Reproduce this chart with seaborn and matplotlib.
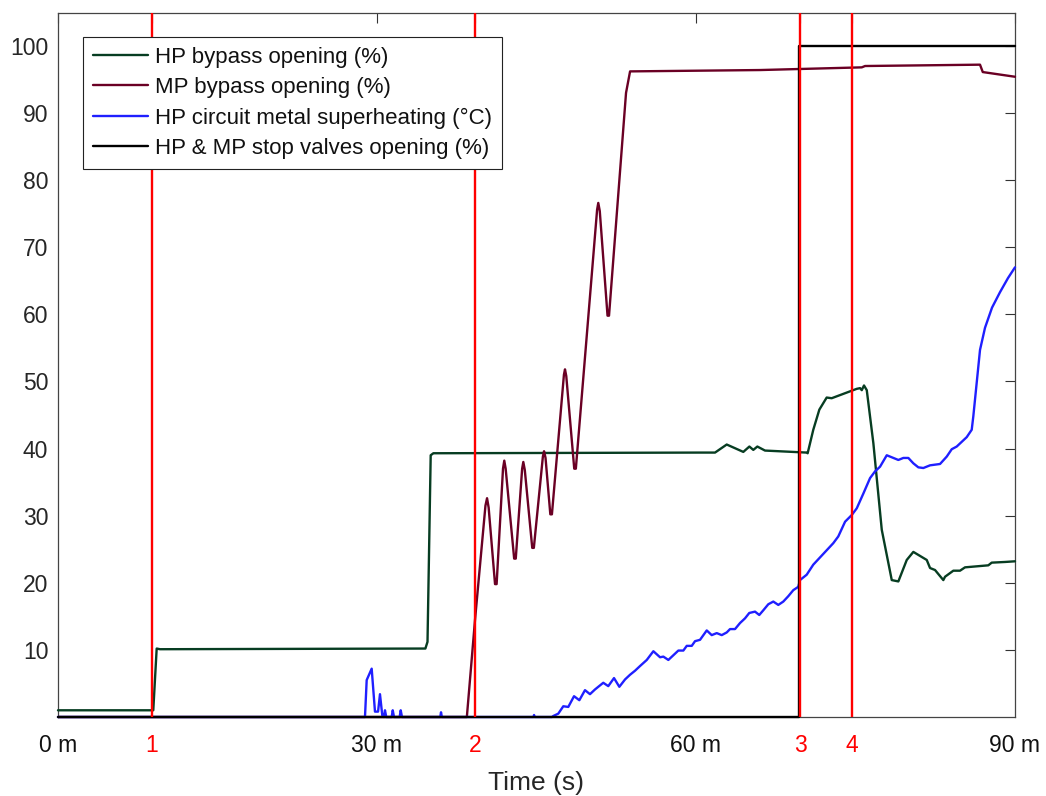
import matplotlib
matplotlib.use("Agg")
import matplotlib.pyplot as plt
import seaborn as sns
import pandas as pd

# ---------------- data (time in minutes) ----------------
hp_t = [0, 8.9, 8.96, 9.28, 9.59, 34.55, 34.75, 35.05, 35.3, 60.38, 61.79, 62.89,
        64.45, 65.02, 65.39, 65.77, 66.49, 70.41, 70.5, 71.03, 71.60, 72.29, 72.76,
        75.12, 75.43, 75.59, 75.80, 76.06, 76.68, 77.47, 78.41, 79.03, 79.82, 80.44,
        81.70, 82.01, 82.48, 83.26, 83.42, 84.20, 84.83, 85.30, 87.49, 87.81, 89.06, 90]
hp_v = [1.0, 1.0, 1.0, 10.2, 10.1, 10.2, 11.2, 39.0, 39.3, 39.4, 39.4, 40.6,
        39.5, 40.3, 39.8, 40.3, 39.7, 39.4, 39.3, 42.8, 45.8, 47.6, 47.5,
        48.9, 49.0, 48.7, 49.4, 48.7, 40.8, 27.9, 20.4, 20.2, 23.4, 24.6,
        23.4, 22.2, 21.9, 20.4, 20.9, 21.8, 21.8, 22.3, 22.6, 23.0, 23.1, 23.2]

mp_t = [0, 38.45, 39.22, 40.2, 40.35, 40.5, 41.1, 41.25, 41.85, 41.97, 42.1,
        42.9, 43.05, 43.65, 43.76, 43.9, 44.6, 44.75, 45.6, 45.71, 45.85, 46.3, 46.45,
        47.58, 47.68, 47.8, 48.55, 48.7, 50.7, 50.81, 50.95, 51.68, 51.82, 53.42,
        53.80, 66.02, 75.59, 75.9, 86.71, 86.97, 90]
mp_v = [0, 0, 14.5, 31.5, 32.6, 31.2, 19.8, 19.8, 37.0, 38.2, 37.0,
        23.6, 23.6, 37.0, 38.0, 36.8, 25.2, 25.2, 38.8, 39.6, 38.6, 30.2, 30.2,
        51.0, 51.8, 50.8, 37.0, 37.0, 75.6, 76.6, 75.4, 59.8, 59.8, 93.0,
        96.2, 96.4, 96.8, 97.0, 97.2, 96.1, 95.4]

sh_t = [0, 28.87, 29.03, 29.50, 29.81, 30.10, 30.28, 30.50, 30.65, 30.75, 30.87,
        31.38, 31.48, 31.60, 32.13, 32.23, 32.35, 35.95, 36.02, 36.10, 44.72, 44.77,
        44.82, 46.45,
        46.58, 47.05, 47.52, 47.99, 48.53, 49.03, 49.56, 50.03, 50.50, 50.81, 51.28,
        51.75, 52.29, 52.79, 53.33, 53.80, 54.27, 54.74, 55.37, 55.99, 56.62, 56.93,
        57.40, 57.87, 58.34, 58.81, 59.13, 59.60, 59.91, 60.38, 61.01, 61.48, 61.95,
        62.42, 62.89, 63.20, 63.67, 64.14, 64.61, 65.01, 65.55, 65.95, 66.33, 66.80,
        67.27, 67.74, 68.21, 68.68, 69.15, 69.62, 69.78, 70.41, 71.03, 72.91, 73.38,
        74.02, 74.65, 75.12, 75.74, 76.37, 76.84, 77.31, 77.94, 78.41, 79.03, 79.50,
        79.97, 80.44, 80.91, 81.38, 82.01, 82.48, 82.95, 83.58, 84.05, 84.52, 85.46,
        85.93, 86.08, 86.71, 87.18, 87.84, 88.59, 89.34, 90]
sh_v = [0, 0, 5.5, 7.2, 0.8, 0.8, 3.4, 0.2, 0, 1.0, 0,
        0, 1.0, 0, 0, 1.0, 0, 0, 0.7, 0, 0, 0.3,
        0, 0,
        0.15, 0.5, 1.6, 1.5, 3.1, 2.5, 4.0, 3.4, 4.1, 4.5, 5.1,
        4.6, 5.8, 4.5, 5.6, 6.3, 6.9, 7.6, 8.5, 9.8, 8.9, 9.0,
        8.5, 9.2, 9.9, 9.9, 10.6, 10.6, 11.3, 11.5, 12.9, 12.2, 12.5,
        12.2, 12.6, 13.1, 13.1, 14.0, 14.7, 15.5, 15.7, 15.2, 15.9, 16.8,
        17.2, 16.7, 17.2, 18.0, 18.9, 19.4, 20.4, 21.2, 22.7, 25.9, 26.9,
        29.1, 30.1, 31.1, 33.3, 35.6, 36.6, 37.3, 39.0, 38.7, 38.3, 38.6,
        38.6, 37.8, 37.2, 37.1, 37.5, 37.6, 37.7, 38.8, 39.9, 40.3, 41.7,
        42.8, 44.8, 54.7, 58.0, 61.0, 63.3, 65.4, 67.0]

sv_t = [0, 69.7, 69.7, 90]
sv_v = [0, 0, 100, 100]

event_times = [8.82, 39.22, 69.78, 74.67]
event_labels = ["1", "2", "3", "4"]
time_ticks = [0, 30, 60, 90]
time_labels = ["0 m", "30 m", "60 m", "90 m"]
y_ticks = [10, 20, 30, 40, 50, 60, 70, 80, 90, 100]

labels = ["HP bypass opening (%)", "MP bypass opening (%)",
          "HP circuit metal superheating (\u00b0C)", "HP & MP stop valves opening (%)"]
colors = ["#073d22", "#6a0024", "#1f1fff", "#000000"]

# ---------------- plot ----------------
sns.set_style("white")
plt.rcParams["font.family"] = ["Liberation Sans", "DejaVu Sans"]

fig = plt.figure(figsize=(10.46, 7.96), dpi=100)
ax = fig.add_axes([0.05545, 0.09925, 0.91491, 0.88442])

series = [(hp_t, hp_v), (mp_t, mp_v), (sh_t, sh_v), (sv_t, sv_v)]
for (t, v), lab, col in zip(series, labels, colors):
    df = pd.DataFrame({"t": t, "v": v})
    sns.lineplot(data=df, x="t", y="v", ax=ax, color=col, label=lab,
                 sort=False, estimator=None, linewidth=1.7, clip_on=False, zorder=3)

for et in event_times:
    ax.axvline(et, color="#ff0000", linewidth=1.7, zorder=5)

ax.set_xlim(0, 90)
ax.set_ylim(0, 104.9)

xt = time_ticks[:1] + event_times[:1] + time_ticks[1:2] + event_times[1:2] + \
     time_ticks[2:3] + event_times[2:4] + time_ticks[3:]
xl = time_labels[:1] + event_labels[:1] + time_labels[1:2] + event_labels[1:2] + \
     time_labels[2:3] + event_labels[2:4] + time_labels[3:]
ax.set_xticks(xt)
ax.set_xticklabels(xl)
for lbl in ax.get_xticklabels():
    if lbl.get_text() in event_labels:
        lbl.set_color("#ff0000")
    else:
        lbl.set_color("#111111")
ax.set_yticks(y_ticks)
ax.set_yticklabels([str(v) for v in y_ticks], color="#262626")

ax.tick_params(axis="both", direction="in", length=7, width=0.8, color="#333333",
               labelsize=16.5, top=True, right=True)
ax.tick_params(axis="x", pad=12)
ax.tick_params(axis="y", pad=7)

for s in ax.spines.values():
    s.set_visible(True)
    s.set_color("#444444")
    s.set_linewidth(0.9)

ax.set_xlabel("Time (s)", fontsize=19, color="#262626", labelpad=10)
ax.set_ylabel("")

leg = ax.legend(loc="upper left", bbox_to_anchor=(0.0258, 0.9663), borderaxespad=0,
                fontsize=16, frameon=True, fancybox=False, framealpha=1,
                edgecolor="#222222", handlelength=2.5, handletextpad=0.3,
                borderpad=0.45, labelspacing=0.42)
leg.get_frame().set_linewidth(0.8)
for txt in leg.get_texts():
    txt.set_color("#111111")

fig.savefig("out.png", dpi=100)
